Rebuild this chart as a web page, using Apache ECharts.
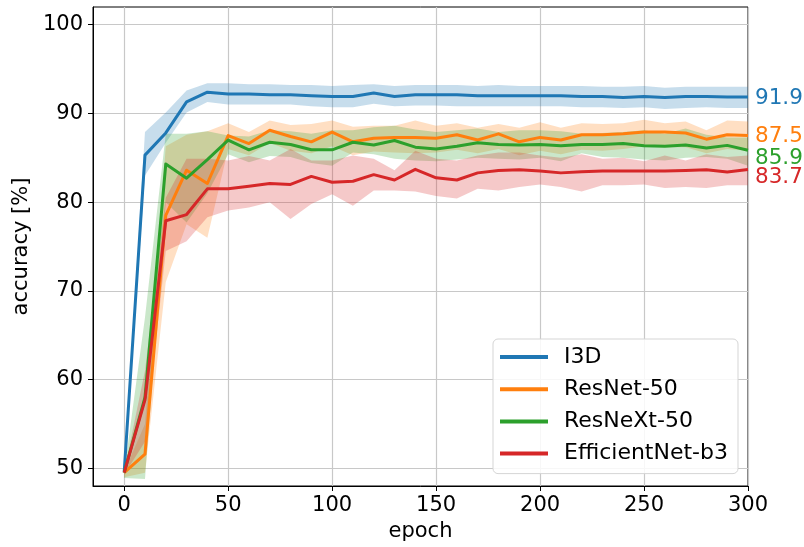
<!DOCTYPE html>
<html><head><meta charset="utf-8">
<script src="https://cdn.jsdelivr.net/npm/echarts@6/dist/echarts.min.js"></script>
<style>html,body{margin:0;padding:0;background:#fff}#c{width:804px;height:547px}</style>
</head><body><div id="c"></div><script>
const epochs = [0,10,20,30,40,50,60,70,80,90,100,110,120,130,140,150,160,170,180,190,200,210,220,230,240,250,260,270,280,290,300];
const xTicks = [0,50,100,150,200,250,300];
const yTicks = [50,60,70,80,90,100];
const names = ['I3D','ResNet-50','ResNeXt-50','EfficientNet-b3'];
const colors = ['#1f77b4','#ff7f0e','#2ca02c','#d62728'];
const endLabels = ['91.9','87.5','85.9','83.7'];

const i3dMean  = [49.6,85.3,87.8,91.3,92.4,92.2,92.2,92.1,92.1,92.0,91.9,91.9,92.3,91.9,92.1,92.1,92.1,92.0,92.0,92.0,92.0,92.0,91.9,91.9,91.8,91.9,91.8,91.9,91.9,91.85,91.85];
const i3dUpper = [49.7,87.9,90.1,92.6,93.4,93.4,93.3,93.3,93.2,93.2,93.1,93.2,93.3,93.1,93.2,93.2,93.2,93.1,93.2,93.1,93.1,93.1,93.1,93.0,93.0,93.1,92.9,93.0,93.0,93.0,93.0];
const i3dLower = [49.4,83.0,86.7,90.1,91.3,91.0,91.0,91.0,91.0,90.8,90.7,90.7,91.1,90.8,90.9,90.9,90.8,90.8,90.8,90.8,90.8,90.8,90.7,90.7,90.6,90.7,90.5,90.6,90.7,90.6,90.6];

const resMean  = [49.5,51.6,78.5,83.6,82.1,87.5,86.6,88.1,87.4,86.8,87.9,86.8,87.2,87.3,87.3,87.2,87.6,87.0,87.7,86.8,87.3,87.0,87.6,87.6,87.7,87.9,87.9,87.8,87.1,87.6,87.5];
const resUpper = [49.6,55.0,86.3,87.6,88.0,88.9,87.9,89.2,88.7,88.8,89.2,88.5,88.6,88.6,89.2,88.6,88.9,88.4,88.8,88.4,89.0,88.4,88.9,88.8,88.9,89.3,88.9,89.1,88.1,89.2,89.1];
const resLower = [49.0,49.5,71.0,77.5,76.0,86.0,85.3,86.7,85.8,85.5,86.3,85.3,85.7,85.6,85.5,85.6,85.9,85.5,86.0,85.3,85.8,85.4,85.9,85.8,86.0,86.3,86.2,86.2,85.5,86.0,85.8];

const rnxMean  = [49.5,58.0,84.3,82.7,84.8,87.0,85.9,86.75,86.5,85.9,85.9,86.75,86.45,86.95,86.2,86.0,86.3,86.7,86.5,86.45,86.5,86.35,86.5,86.5,86.6,86.35,86.3,86.45,86.1,86.4,85.85];
const rnxUpper = [49.6,67.0,87.7,87.7,88.0,87.5,87.4,88.1,88.0,87.7,88.1,88.1,88.45,88.6,88.2,87.9,88.1,88.3,87.9,88.1,88.1,88.0,87.7,87.8,87.9,88.1,87.7,88.3,87.6,87.3,87.3];
const rnxLower = [48.9,48.8,80.0,77.7,81.0,85.4,84.5,85.2,85.1,84.4,84.1,85.6,85.4,84.9,84.7,84.6,84.8,85.0,84.9,84.8,85.0,84.6,85.5,85.1,85.0,84.8,84.7,85.0,85.1,84.9,84.1];

const effMean  = [49.5,57.7,77.9,78.6,81.5,81.5,81.8,82.1,82.0,82.9,82.25,82.36,83.1,82.5,83.7,82.74,82.5,83.3,83.56,83.64,83.5,83.3,83.43,83.5,83.5,83.5,83.5,83.56,83.64,83.4,83.68];
const effUpper = [49.6,61.0,80.5,84.9,84.9,84.7,85.2,84.7,86.0,84.7,84.7,85.25,84.9,83.6,85.8,84.9,84.7,85.25,85.6,85.6,85.25,85.0,85.4,84.9,85.0,84.6,85.25,84.7,85.4,85.1,85.25];
const effLower = [49.3,53.0,74.5,75.6,78.3,79.05,79.4,80.0,78.1,79.8,80.9,79.6,81.3,81.3,81.2,80.7,80.4,81.5,81.3,81.7,82.0,81.7,81.2,81.9,81.9,82.0,81.6,81.7,81.6,81.9,81.9];

const means = [i3dMean, resMean, rnxMean, effMean];
const uppers = [i3dUpper, resUpper, rnxUpper, effUpper];
const lowers = [i3dLower, resLower, rnxLower, effLower];
const labelShift = [0, 0, 7, 7];

function hexA(hex, a){
  const r=parseInt(hex.slice(1,3),16), g=parseInt(hex.slice(3,5),16), b=parseInt(hex.slice(5,7),16);
  return 'rgba('+r+','+g+','+b+','+a+')';
}
const FONT = 'DejaVu Sans';
const series = [];
names.forEach((n,k)=>{
  const lo = lowers[k], up = uppers[k];
  series.push({
    type:'custom', name:n+' band', silent:true, z:1, clip:true,
    data: epochs.map((e,i)=>[e, lo[i], up[i]]),
    encode:{x:0, y:[1,2]},
    renderItem(params, api){
      if(params.dataIndex!==0) return null;
      const pts=[];
      for(let i=0;i<epochs.length;i++) pts.push(api.coord([epochs[i], up[i]]));
      for(let i=epochs.length-1;i>=0;i--) pts.push(api.coord([epochs[i], lo[i]]));
      return {type:'polygon', shape:{points:pts}, style:{fill:hexA(colors[k],0.25)}};
    }
  });
});
names.forEach((n,k)=>{
  series.push({
    type:'line', name:n, z:3+k, symbol:'none', clip:true, animation:false,
    data: epochs.map((e,i)=>[e, means[k][i]]),
    lineStyle:{color:colors[k], width:3, join:'round'},
    itemStyle:{color:colors[k]},
    endLabel:{show:true, formatter:()=>endLabels[k], color:colors[k], fontFamily:FONT, fontSize:21.5, distance:7, offset:[0,labelShift[k]+1]}
  });
});

const chart = echarts.init(document.getElementById('c'), null, {renderer:'canvas'});
chart.setOption({
  animation:false,
  backgroundColor:'#fff',
  grid:{left:93, top:7, width:655, height:479, show:true, borderColor:'#000', borderWidth:1, backgroundColor:'transparent'},
  xAxis:{
    type:'value', min:-15, max:300,
    name:'epoch', nameLocation:'middle', nameGap:33,
    nameTextStyle:{fontFamily:FONT, fontSize:21, color:'#000'},
    axisLine:{show:true, onZero:false, lineStyle:{color:'#000', width:1}},
    axisTick:{show:true, inside:false, length:5, customValues:xTicks, lineStyle:{color:'#000'}},
    axisLabel:{customValues:xTicks, fontFamily:FONT, fontSize:21, color:'#000', margin:9},
    splitLine:{show:true, lineStyle:{color:'#c8c8c8', width:1.2}}
  },
  yAxis:{
    type:'value', min:48, max:102,
    name:'accuracy [%]', nameLocation:'middle', nameGap:58, nameRotate:90,
    nameTextStyle:{fontFamily:FONT, fontSize:21, color:'#000'},
    axisLine:{show:true, onZero:false, lineStyle:{color:'#000', width:1}},
    axisTick:{show:true, inside:false, length:5, customValues:yTicks, lineStyle:{color:'#000'}},
    axisLabel:{customValues:yTicks, fontFamily:FONT, fontSize:21, color:'#000', margin:10},
    splitLine:{show:true, lineStyle:{color:'#c8c8c8', width:1.2}}
  },
  legend:{
    data:names, orient:'vertical', left:493, top:339,
    icon:'rect', itemWidth:48, itemHeight:4, itemGap:10.2,
    padding:[7,10,9,7],
    backgroundColor:'rgba(255,255,255,0.85)', borderColor:'#d5d5d5', borderWidth:1, borderRadius:5,
    textStyle:{fontFamily:FONT, fontSize:22, color:'#000', lineHeight:22, padding:[0,0,0,11]},
    selectedMode:false
  },
  series:series
});
</script></body></html>
